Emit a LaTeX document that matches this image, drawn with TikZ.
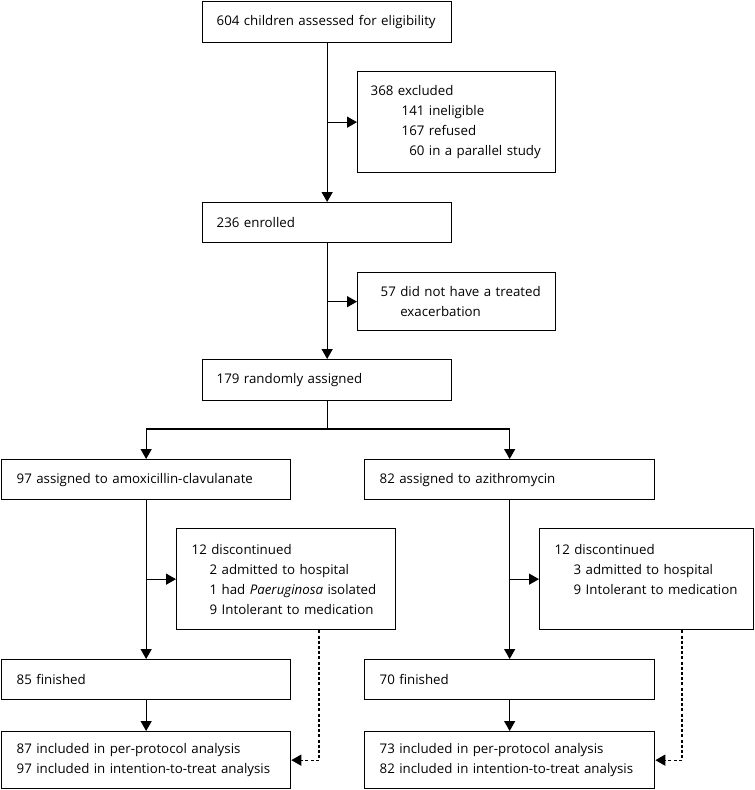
\documentclass[tikz,border=0pt]{standalone}
\usepackage{fontspec}
\setmainfont{Open Sans}
\usetikzlibrary{arrows.meta,calc}
\begin{document}
\begin{tikzpicture}[x=1pt,y=-1pt,
  every node/.style={font=\fontsize{13.3}{20}\selectfont},
  box/.style={draw,line width=1.3pt,rectangle,anchor=north west,align=left,inner ysep=0pt},
  arr/.style={line width=1.3pt,-{Triangle[length=10pt,width=11pt]}},
  darr/.style={line width=1.3pt,dash pattern=on 3pt off 2.2pt,-{Triangle[length=10pt,width=11pt]}}]
\useasboundingbox (0,0) rectangle (755,790);
% top column
\node[box,minimum width=249pt,minimum height=41pt,inner xsep=14pt,text width=221pt] (b1) at (202,1) {604 children assessed for eligibility};
\node[box,minimum width=198pt,minimum height=101pt,inner xsep=13pt,text width=172pt] (exc) at (357,71)
  {368 excluded\\\hspace{31pt}141 ineligible\\\hspace{31pt}167 refused\\\hspace{31pt}\phantom{1}60 in a parallel study};
\node[box,minimum width=249pt,minimum height=40pt,inner xsep=14pt,text width=221pt] (b2) at (202,202) {236 enrolled};
\node[box,minimum width=198pt,minimum height=58pt,inner xsep=11pt,text width=176pt] (ex2) at (357,272)
  {\hspace{12pt}57 did not have a treated\\\hspace{12pt}\phantom{57 }exacerbation};
\node[box,minimum width=249pt,minimum height=41pt,inner xsep=14pt,text width=221pt] (b3) at (202,359) {179 randomly assigned};
% arms
\node[box,minimum width=289pt,minimum height=40pt,inner xsep=15pt,text width=259pt] (L1) at (1,459) {97 assigned to amoxicillin-clavulanate};
\node[box,minimum width=290pt,minimum height=40pt,inner xsep=15pt,text width=260pt] (R1) at (364,459) {82 assigned to azithromycin};
\node[box,minimum width=219pt,minimum height=101pt,inner xsep=15pt,text width=189pt] (Ld) at (176,528)
  {12 discontinued\\\hspace{18pt}2 admitted to hospital\\\hspace{18pt}1 had \textit{Paeruginosa} isolated\\\hspace{18pt}9 Intolerant to medication};
\node[box,minimum width=214pt,minimum height=101pt,inner xsep=15pt,text width=184pt] (Rd) at (539,528)
  {12 discontinued\\\hspace{19pt}3 admitted to hospital\\\hspace{19pt}9 Intolerant to medication\\\mbox{}};
\node[box,minimum width=289pt,minimum height=40pt,inner xsep=15pt,text width=259pt] (L2) at (1,659) {85 finished};
\node[box,minimum width=290pt,minimum height=40pt,inner xsep=15pt,text width=260pt] (R2) at (364,659) {70 finished};
\node[box,minimum width=289pt,minimum height=57pt,inner xsep=15pt,text width=259pt] (L3) at (1,731)
  {87 included in per-protocol analysis\\97 included in intention-to-treat analysis};
\node[box,minimum width=290pt,minimum height=57pt,inner xsep=15pt,text width=260pt] (R3) at (364,731)
  {73 included in per-protocol analysis\\82 included in intention-to-treat analysis};
% connectors
\draw[arr] (b1.south) -- (b2.north);
\draw[arr] (b1.south |- exc.west) -- (exc.west);
\draw[arr] (b2.south) -- (b3.north);
\draw[arr] (b2.south |- ex2.west) -- (ex2.west);
\coordinate (split) at (0,429);
\draw[line width=1.3pt] (b3.south) -- (b3.south |- split);
\draw[arr] (b3.south |- split) -| (L1.north);
\draw[arr] (b3.south |- split) -| (R1.north);
\draw[arr] (L1.south) -- (L2.north);
\draw[arr] (L1.south |- Ld.west) -- (Ld.west);
\draw[arr] (R1.south) -- (R2.north);
\draw[arr] (R1.south |- Rd.west) -- (Rd.west);
\draw[arr] (L2.south) -- (L3.north);
\draw[arr] (R2.south) -- (R3.north);
\coordinate (dl) at (319,0);
\coordinate (dr) at (682,0);
\draw[darr] (Ld.south -| dl) |- (L3.east);
\draw[darr] (Rd.south -| dr) |- (R3.east);
\end{tikzpicture}
\end{document}
